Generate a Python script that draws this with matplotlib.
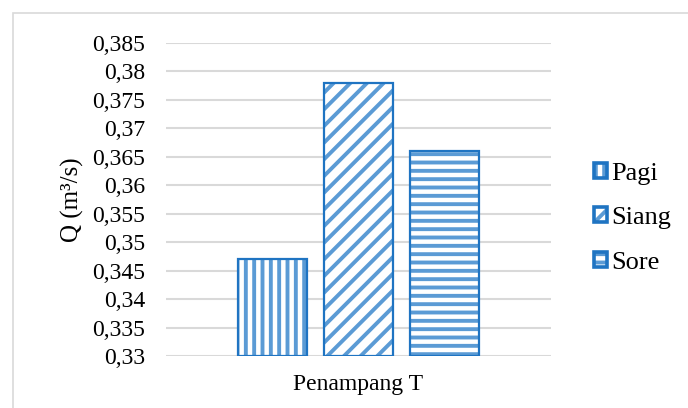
import matplotlib.pyplot as plt
from matplotlib.patches import Rectangle, Patch
from matplotlib.legend_handler import HandlerTuple

# Debit per waktu pengukuran
section = 'Penampang T'
sessions = ['Pagi', 'Siang', 'Sore']
discharge = [0.347, 0.378, 0.366]
hatches = ['||', '//', '--']
yticks = [0.33, 0.335, 0.34, 0.345, 0.35, 0.355, 0.36, 0.365, 0.37, 0.375, 0.38, 0.385]

edge_col = '#1F74C2'
hatch_col = '#5B9BD5'

plt.rcParams['font.family'] = ['Liberation Serif', 'DejaVu Serif']
plt.rcParams['hatch.linewidth'] = 2.8

fig = plt.figure(figsize=(6.88, 4.08), dpi=100)
# light outer frame
fig.patches.append(Rectangle((13 / 688, -0.1), 1.2, (408 - 13) / 408 + 0.1,
                             transform=fig.transFigure, fill=False,
                             edgecolor='#D9D9D9', lw=1.2))

ax = fig.add_axes([166 / 688, 52 / 408, 385 / 688, 313 / 408])

width = 0.178
step = 0.223
handles = []
for i, (name, val, h) in enumerate(zip(sessions, discharge, hatches)):
    x = 0.5 + (i - 1) * step
    ax.bar(x, val - 0.33, width, bottom=0.33, color='white',
           edgecolor=hatch_col, hatch=h, lw=0, zorder=3)
    ax.bar(x, val - 0.33, width, bottom=0.33, color='none',
           edgecolor=edge_col, lw=1.6, zorder=4)
    handles.append((Patch(facecolor='white', edgecolor=hatch_col, hatch=h, lw=0),
                    Patch(facecolor='none', edgecolor=edge_col, lw=2.6)))

ax.set_xlim(0, 1)
ax.set_ylim(0.33, 0.385)
ax.set_yticks(yticks)
ax.set_yticklabels([('%g' % t).replace('.', ',') for t in yticks], fontsize=17)
ax.set_xticks([0.5])
ax.set_xticklabels([section], fontsize=17)
ax.tick_params(axis='both', length=0)
ax.tick_params(axis='y', pad=15)
ax.tick_params(axis='x', pad=13)
ax.grid(axis='y', color='#D9D9D9', lw=1.5, zorder=0)
ax.set_axisbelow(True)
for s in ax.spines.values():
    s.set_visible(False)

ax.set_ylabel('Q (m³/s)', fontsize=18, labelpad=6)

ax.legend(handles, sessions, handler_map={tuple: HandlerTuple(ndivide=1)},
          loc='center left', bbox_to_anchor=(1.05, 0.44), frameon=False,
          fontsize=19, handlelength=0.5, handleheight=0.5,
          handletextpad=0.15, labelspacing=0.85)

fig.savefig('out.png', dpi=100)
